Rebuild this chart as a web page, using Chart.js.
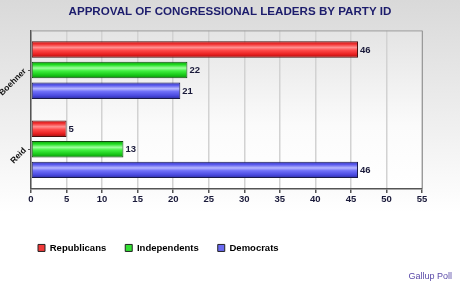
<!DOCTYPE html>
<html>
<head>
<meta charset="utf-8">
<script src="https://cdn.jsdelivr.net/npm/chart.js@4"></script>
<style>
  html, body { margin: 0; padding: 0; }
  body { width: 460px; height: 283px; overflow: hidden; background: #fff; }
  #wrap { width: 460px; height: 283px; position: relative; }
</style>
</head>
<body>
<div id="wrap"><canvas id="c" width="460" height="283"></canvas></div>
<script>
const categories = ['Boehner', 'Reid'];
const republicans = [46, 5];
const independents = [22, 13];
const democrats = [21, 46];
const seriesNames = ['Republicans', 'Independents', 'Democrats'];
const xTicks = [0, 5, 10, 15, 20, 25, 30, 35, 40, 45, 50, 55];
const titleText = 'APPROVAL OF CONGRESSIONAL LEADERS BY PARTY ID';
const sourceText = 'Gallup Poll';

const palettes = [
  { base: '#f03a3a', border: '#4a1010', stops: ['#b81818', '#f23030', '#ff9090', '#ff4a4a', '#e82020', '#a01010'] },
  { base: '#33e033', border: '#104a10', stops: ['#12a012', '#20dd20', '#a0ffa0', '#40f040', '#18c818', '#0c8a0c'] },
  { base: '#6a6af0', border: '#1a1a4a', stops: ['#3a3ab8', '#5a5aee', '#b8b8ff', '#7070f8', '#4a4ae0', '#2c2ca0'] }
];

const FONT = '"Liberation Sans", Arial, sans-serif';

const bgPlugin = {
  id: 'bgPlugin',
  afterLayout(chart) {
    if (chart.legend) {
      chart.legend.left = 19;
    }
    if (chart.titleBlock) {
      chart.titleBlock.left = 0;
      chart.titleBlock.right = 460;
    }
    chart.boxes.forEach(b => {
      if (b !== chart.titleBlock && b.options && b.options.text === sourceText) {
        b.left = 0;
        b.right = 452;
      }
    });
  },
  beforeDraw(chart) {
    const { ctx, width, height, chartArea: a } = chart;
    ctx.save();
    let g = ctx.createLinearGradient(0, 0, 0, height);
    g.addColorStop(0, '#d9d9d9');
    g.addColorStop(0.75, '#ffffff');
    g.addColorStop(1, '#ffffff');
    ctx.fillStyle = g;
    ctx.fillRect(0, 0, width, height);
    g = ctx.createLinearGradient(0, a.top, 0, a.bottom);
    g.addColorStop(0, '#e4e4e4');
    g.addColorStop(0.6, '#fbfbfb');
    g.addColorStop(1, '#ffffff');
    ctx.fillStyle = g;
    ctx.fillRect(a.left, a.top, a.right - a.left, a.bottom - a.top);
    ctx.restore();
  },
  beforeDatasetsDraw(chart) {
    const { ctx, chartArea: a } = chart;
    ctx.save();
    ctx.strokeStyle = '#9a9a9a';
    ctx.lineWidth = 1;
    ctx.beginPath();
    ctx.moveTo(a.left, a.top + 0.5);
    ctx.lineTo(a.right + 0.5, a.top + 0.5);
    ctx.lineTo(a.right + 0.5, a.bottom);
    ctx.stroke();
    ctx.restore();
    chart.data.datasets.forEach((ds, di) => {
      const meta = chart.getDatasetMeta(di);
      const p = palettes[di];
      meta.data.forEach(el => {
        const h = el.height;
        const y0 = el.y - h / 2, y1 = el.y + h / 2;
        const g = ctx.createLinearGradient(0, y0, 0, y1);
        const pos = [0, 0.18, 0.38, 0.55, 0.8, 1];
        pos.forEach((t, i) => g.addColorStop(t, p.stops[i]));
        el.options = Object.assign({}, el.options, { backgroundColor: g });
      });
    });
  },
  afterDatasetsDraw(chart) {
    const { ctx } = chart;
    ctx.save();
    ctx.font = 'bold 9.5px ' + FONT;
    ctx.fillStyle = '#1a1a3a';
    ctx.textAlign = 'left';
    ctx.textBaseline = 'middle';
    chart.data.datasets.forEach((ds, di) => {
      const meta = chart.getDatasetMeta(di);
      meta.data.forEach((el, i) => {
        ctx.fillText(String(ds.data[i]), el.x + 2, el.y + 0.5);
      });
    });
    ctx.restore();
  }
};

const seriesData = [republicans, independents, democrats];

new Chart(document.getElementById('c'), {
  type: 'bar',
  data: {
    labels: categories,
    datasets: seriesNames.map((name, i) => ({
      label: name,
      data: seriesData[i],
      backgroundColor: palettes[i].base,
      borderColor: palettes[i].border,
      borderWidth: 1,
      borderSkipped: false,
      categoryPercentage: 0.78,
      barPercentage: 0.8
    }))
  },
  options: {
    indexAxis: 'y',
    responsive: false,
    animation: false,
    devicePixelRatio: 1,
    layout: { padding: { left: 0, right: 38, top: 0, bottom: 0 } },
    scales: {
      x: {
        min: 0,
        max: 55,
        afterBuildTicks(scale) { scale.ticks = xTicks.map(v => ({ value: v })); },
        afterFit(scale) { scale.height = 35.3; },
        grid: {
          color: '#d2d2d2',
          lineWidth: 1.5,
          tickColor: '#555',
          tickLength: 4
        },
        border: { color: '#555', width: 1.5 },
        ticks: {
          color: '#1a1a3a',
          font: { family: FONT, size: 9.5, weight: 'bold' },
          padding: 1,
          maxRotation: 0
        }
      },
      y: {
        afterFit(scale) { scale.width = 31; },
        grid: {
          offset: false,
          drawOnChartArea: false,
          tickColor: '#555',
          tickLength: 3
        },
        border: { color: '#555', width: 1.5 },
        ticks: {
          color: '#111',
          font: { family: FONT, size: 8.5, weight: 'bold' },
          padding: 3,
          minRotation: 45,
          maxRotation: 45
        }
      }
    },
    plugins: {
      title: {
        display: true,
        text: titleText,
        color: '#1c1c6c',
        font: { family: FONT, size: 11.6, weight: 'bold' },
        padding: { top: 4.5, bottom: 12 }
      },
      subtitle: {
        display: true,
        text: sourceText,
        position: 'bottom',
        align: 'end',
        color: '#5a4aa8',
        font: { family: FONT, size: 9, weight: 'normal' },
        padding: { top: 8.5, bottom: 1 }
      },
      legend: {
        position: 'bottom',
        align: 'start',
        labels: {
          boxWidth: 7,
          boxHeight: 7,
          padding: 19,
          color: '#111',
          font: { family: FONT, size: 9.5, weight: 'bold' },
          generateLabels(chart) {
            return chart.data.datasets.map((ds, i) => ({
              text: ds.label,
              fillStyle: palettes[i].base,
              strokeStyle: '#222',
              lineWidth: 1,
              datasetIndex: i,
              hidden: false
            }));
          }
        }
      },
      tooltip: { enabled: false }
    }
  },
  plugins: [bgPlugin]
});
</script>
</body>
</html>
